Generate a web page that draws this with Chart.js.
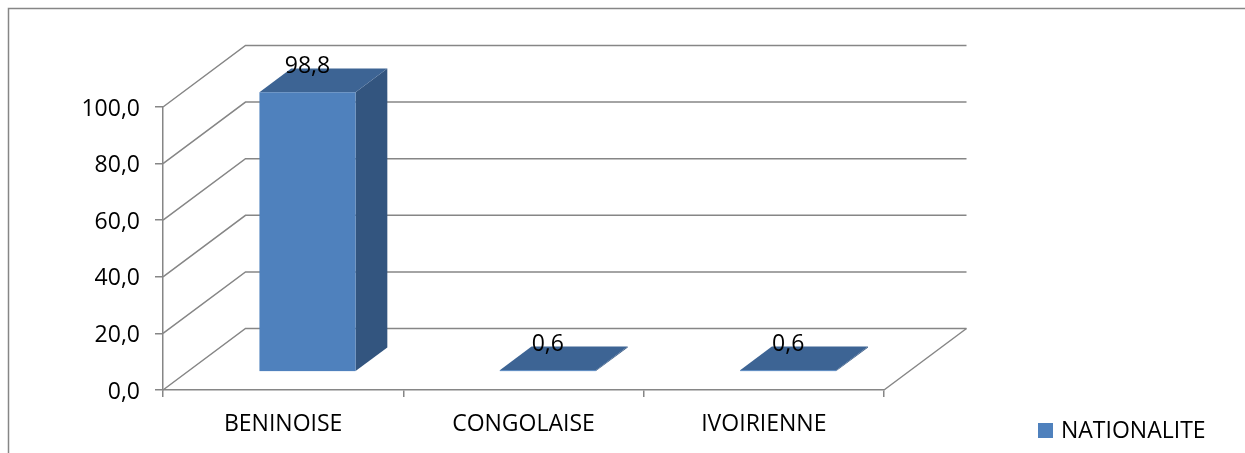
<!DOCTYPE html>
<html>
<head>
<meta charset="utf-8">
<script src="https://cdn.jsdelivr.net/npm/chart.js@4.4.0/dist/chart.umd.min.js"></script>
<style>
  html, body { margin: 0; padding: 0; background: #fff; }
  #quadro { width: 1245px; height: 453px; position: relative; }
</style>
</head>
<body>
<div id="quadro"><canvas id="grafico"></canvas></div>
<script>
const categorias = ['BENINOISE', 'CONGOLAISE', 'IVOIRIENNE'];
const valores = [98.8, 0.6, 0.6];
const nomeSerie = 'NATIONALITE';
const ticksY = [0, 20, 40, 60, 80, 100];

const corFrente = '#4F81BD';
const corTopo = '#3D6494';
const corLado = '#33557F';
const corGrade = '#868686';
const fonte = "'Open Sans', sans-serif";
const tamanho = 23;

// deslocamento da profundidade (parede do fundo) e posição das barras nela
const PROF_X = 82.5, PROF_Y = -61.5;
const FRENTE = 0.295, ESPESSURA = 0.385;

function formatar(v) {
    return Number(v).toFixed(1).replace('.', ',');
}

const efeito3d = {
    id: 'efeito3d',
    beforeDatasetsDraw(chart) {
        const ctx = chart.ctx;
        const area = chart.chartArea;
        const escalaY = chart.scales.y;
        ctx.save();

        // moldura do gráfico
        ctx.strokeStyle = corGrade;
        ctx.lineWidth = 1.5;
        ctx.beginPath();
        ctx.moveTo(8.5, chart.height);
        ctx.lineTo(8.5, 8.5);
        ctx.lineTo(chart.width, 8.5);
        ctx.stroke();

        // linhas de grade na parede lateral e no fundo
        ticksY.forEach(t => {
            const py = escalaY.getPixelForValue(t);
            ctx.beginPath();
            ctx.moveTo(area.left, py);
            ctx.lineTo(area.left + PROF_X, py + PROF_Y);
            ctx.lineTo(area.right + PROF_X, py + PROF_Y);
            ctx.stroke();
        });
        // borda direita do chão
        ctx.beginPath();
        ctx.moveTo(area.right, area.bottom);
        ctx.lineTo(area.right + PROF_X, area.bottom + PROF_Y);
        ctx.stroke();

        // barras em 3D
        const meta = chart.getDatasetMeta(0);
        const ox = PROF_X * FRENTE, oy = PROF_Y * FRENTE;
        const dx = PROF_X * ESPESSURA, dy = PROF_Y * ESPESSURA;
        meta.data.forEach((barra, i) => {
            const p = barra.getProps(['x', 'y', 'base', 'width'], true);
            const esq = p.x - p.width / 2 + ox, dir = p.x + p.width / 2 + ox;
            const topo = p.y + oy, base = p.base + oy;

            ctx.fillStyle = corLado;
            ctx.beginPath();
            ctx.moveTo(dir, topo);
            ctx.lineTo(dir + dx, topo + dy);
            ctx.lineTo(dir + dx, base + dy);
            ctx.lineTo(dir, base);
            ctx.closePath();
            ctx.fill();

            ctx.fillStyle = corTopo;
            ctx.beginPath();
            ctx.moveTo(esq, topo);
            ctx.lineTo(esq + dx, topo + dy);
            ctx.lineTo(dir + dx, topo + dy);
            ctx.lineTo(dir, topo);
            ctx.closePath();
            ctx.fill();

            ctx.fillStyle = corFrente;
            ctx.fillRect(esq, topo, dir - esq, base - topo);

            ctx.fillStyle = '#000';
            ctx.font = tamanho + 'px ' + fonte;
            ctx.textAlign = 'center';
            ctx.textBaseline = 'middle';
            ctx.fillText(formatar(valores[i]), p.x + ox, topo - 26);
        });

        // legenda
        ctx.fillStyle = corFrente;
        ctx.fillRect(1038, 423, 15, 15);
        ctx.fillStyle = '#000';
        ctx.font = tamanho + 'px ' + fonte;
        ctx.textAlign = 'left';
        ctx.textBaseline = 'middle';
        ctx.fillText(chart.data.datasets[0].label, 1061, 431);

        ctx.restore();
        return false;
    }
};

new Chart(document.getElementById('grafico'), {
    type: 'bar',
    data: {
        labels: categorias,
        datasets: [{
            label: nomeSerie,
            data: valores,
            backgroundColor: corFrente,
            barPercentage: 0.4,
            categoryPercentage: 1
        }]
    },
    options: {
        responsive: true,
        maintainAspectRatio: false,
        animation: false,
        layout: { padding: { left: 0, top: 107, right: 361, bottom: 0 } },
        plugins: {
            legend: { display: false },
            tooltip: { enabled: false }
        },
        scales: {
            x: {
                grid: { drawOnChartArea: false, tickLength: 7, color: corGrade, lineWidth: 1.5, offset: true },
                border: { color: corGrade, width: 1.5 },
                ticks: { color: '#000', font: { family: fonte, size: tamanho }, padding: 14, maxRotation: 0 },
                afterFit(escala) { escala.height = 63; }
            },
            y: {
                min: 0,
                max: 100,
                grid: { drawOnChartArea: false, tickLength: 8, color: corGrade, lineWidth: 1.5 },
                border: { color: corGrade, width: 1.5 },
                ticks: {
                    stepSize: 20,
                    color: '#000',
                    font: { family: fonte, size: tamanho },
                    padding: 15,
                    labelOffset: 2,
                    callback: v => formatar(v)
                },
                afterFit(escala) { escala.width = 163; }
            }
        }
    },
    plugins: [efeito3d]
});
</script>
</body>
</html>
